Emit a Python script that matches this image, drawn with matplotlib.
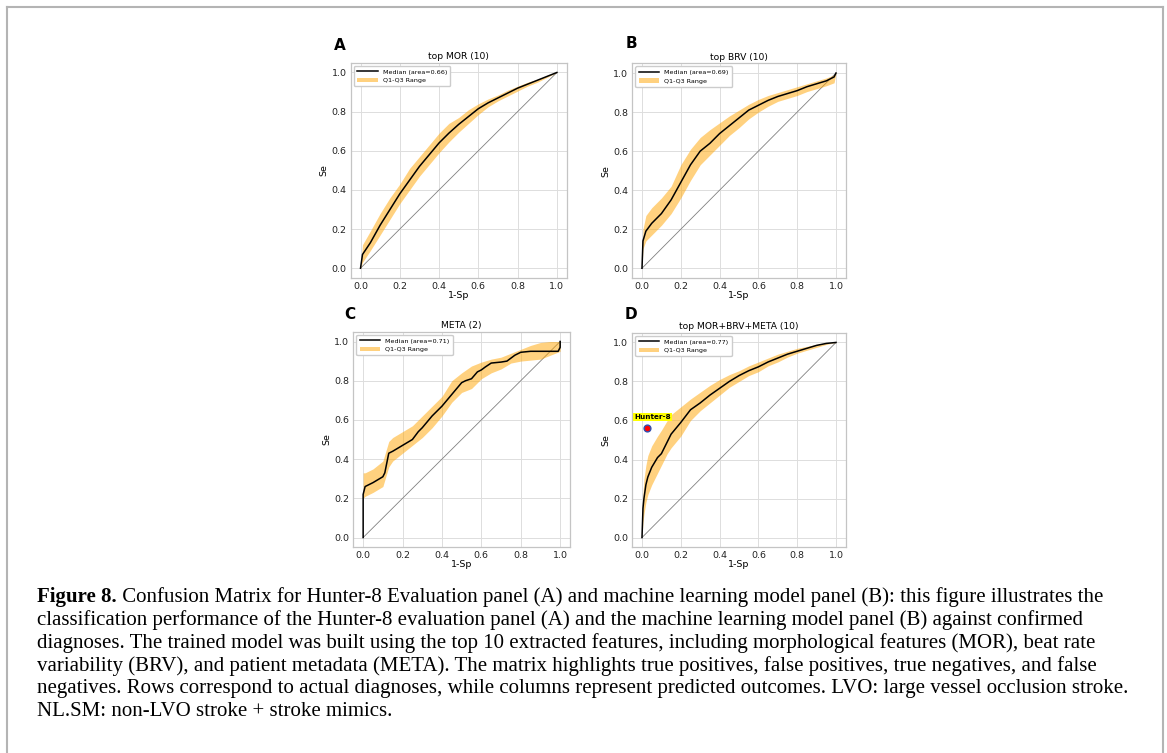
import matplotlib
matplotlib.use("Agg")
import matplotlib.pyplot as plt
from matplotlib.lines import Line2D
import numpy as np

W, H = 1167, 753

# ---------------- data ----------------
titles = ["top MOR (10)", "top BRV (10)", "META (2)", "top MOR+BRV+META (10)"]
panel_letters = ["A", "B", "C", "D"]
areas = [0.66, 0.69, 0.71, 0.77]

# Panel A (MOR)
a_x = [0, 0.01, 0.05, 0.1, 0.15, 0.2, 0.25, 0.3, 0.35, 0.4, 0.45, 0.5, 0.55, 0.6, 0.65, 0.7, 0.75, 0.8, 0.85, 0.9, 0.95, 1.0]
a_med = [0, 0.07, 0.13, 0.22, 0.30, 0.38, 0.45, 0.52, 0.58, 0.64, 0.69, 0.735, 0.775, 0.815, 0.845, 0.87, 0.895, 0.92, 0.94, 0.96, 0.98, 1.0]
a_up = [0, 0.12, 0.19, 0.28, 0.36, 0.43, 0.51, 0.57, 0.63, 0.69, 0.74, 0.77, 0.81, 0.84, 0.865, 0.885, 0.91, 0.93, 0.95, 0.965, 0.985, 1.0]
a_lo = [0, 0.03, 0.09, 0.17, 0.25, 0.33, 0.40, 0.47, 0.53, 0.59, 0.645, 0.695, 0.74, 0.785, 0.825, 0.855, 0.88, 0.905, 0.93, 0.95, 0.975, 1.0]

# Panel B (BRV)
b_x = [0, 0.005, 0.02, 0.05, 0.1, 0.15, 0.2, 0.25, 0.3, 0.35, 0.4, 0.45, 0.5, 0.55, 0.6, 0.65, 0.7, 0.75, 0.8, 0.85, 0.9, 0.95, 0.99, 1.0]
b_med = [0, 0.14, 0.19, 0.23, 0.28, 0.35, 0.44, 0.53, 0.60, 0.64, 0.69, 0.73, 0.77, 0.81, 0.835, 0.86, 0.88, 0.895, 0.91, 0.93, 0.945, 0.96, 0.98, 1.0]
b_up = [0, 0.20, 0.27, 0.31, 0.36, 0.42, 0.53, 0.61, 0.67, 0.71, 0.745, 0.78, 0.81, 0.84, 0.865, 0.885, 0.90, 0.915, 0.93, 0.945, 0.96, 0.975, 0.99, 1.0]
b_lo = [0, 0.10, 0.14, 0.17, 0.22, 0.28, 0.36, 0.45, 0.53, 0.58, 0.63, 0.68, 0.72, 0.765, 0.80, 0.83, 0.855, 0.87, 0.885, 0.905, 0.92, 0.935, 0.95, 1.0]

# Panel C (META)
c_x = [0, 0, 0.01, 0.05, 0.1, 0.11, 0.13, 0.15, 0.2, 0.25, 0.28, 0.3, 0.35, 0.4, 0.45, 0.5, 0.52, 0.55, 0.58, 0.6, 0.62, 0.65, 0.7, 0.73, 0.77, 0.8, 0.85, 0.9, 0.95, 0.99, 1.0, 1.0]
c_med = [0, 0.22, 0.26, 0.28, 0.31, 0.33, 0.43, 0.44, 0.47, 0.50, 0.54, 0.56, 0.62, 0.67, 0.73, 0.79, 0.80, 0.81, 0.845, 0.855, 0.87, 0.89, 0.895, 0.90, 0.93, 0.945, 0.95, 0.95, 0.95, 0.95, 0.97, 1.0]
c_bx = [0, 0.01, 0.05, 0.1, 0.13, 0.15, 0.2, 0.25, 0.3, 0.35, 0.4, 0.45, 0.5, 0.55, 0.6, 0.65, 0.7, 0.75, 0.8, 0.85, 0.9, 0.95, 1.0]
c_up = [0.33, 0.33, 0.35, 0.39, 0.49, 0.51, 0.54, 0.57, 0.62, 0.67, 0.72, 0.80, 0.84, 0.875, 0.895, 0.91, 0.92, 0.94, 0.96, 0.98, 0.995, 1.0, 1.0]
c_lo = [0.20, 0.21, 0.23, 0.26, 0.36, 0.39, 0.43, 0.47, 0.51, 0.56, 0.62, 0.69, 0.74, 0.76, 0.81, 0.84, 0.86, 0.89, 0.90, 0.905, 0.91, 0.93, 0.95]

# Panel D (MOR+BRV+META)
d_x = [0, 0.005, 0.01, 0.02, 0.03, 0.05, 0.08, 0.1, 0.13, 0.15, 0.2, 0.25, 0.3, 0.35, 0.4, 0.45, 0.5, 0.55, 0.6, 0.65, 0.7, 0.75, 0.8, 0.85, 0.9, 0.95, 1.0]
d_med = [0, 0.15, 0.20, 0.27, 0.31, 0.36, 0.41, 0.43, 0.49, 0.53, 0.59, 0.655, 0.69, 0.73, 0.765, 0.80, 0.83, 0.855, 0.875, 0.90, 0.92, 0.94, 0.955, 0.97, 0.985, 0.995, 1.0]
d_up = [0, 0.22, 0.30, 0.37, 0.42, 0.47, 0.52, 0.55, 0.60, 0.63, 0.67, 0.71, 0.745, 0.78, 0.81, 0.835, 0.855, 0.88, 0.90, 0.92, 0.94, 0.955, 0.97, 0.98, 0.99, 0.997, 1.0]
d_lo = [0, 0.08, 0.12, 0.18, 0.22, 0.27, 0.33, 0.37, 0.43, 0.46, 0.52, 0.60, 0.65, 0.69, 0.73, 0.77, 0.80, 0.83, 0.85, 0.88, 0.90, 0.925, 0.945, 0.96, 0.975, 0.99, 1.0]

hunter_x = [0.028]
hunter_y = [0.56]
hunter_label = "Hunter-8"

ticks = [0.0, 0.2, 0.4, 0.6, 0.8, 1.0]

caption_bold = "Figure 8."
caption_lines = [
    " Confusion Matrix for Hunter-8 Evaluation panel (A) and machine learning model panel (B): this figure illustrates the",
    "classification performance of the Hunter-8 evaluation panel (A) and the machine learning model panel (B) against confirmed",
    "diagnoses. The trained model was built using the top 10 extracted features, including morphological features (MOR), beat rate",
    "variability (BRV), and patient metadata (META). The matrix highlights true positives, false positives, true negatives, and false",
    "negatives. Rows correspond to actual diagnoses, while columns represent predicted outcomes. LVO: large vessel occlusion stroke.",
    "NL.SM: non-LVO stroke + stroke mimics.",
]

# ---------------- layout ----------------
fig = plt.figure(figsize=(W / 100, H / 100), dpi=100)

def px_axes(l, t, r, b):
    return fig.add_axes([l / W, 1 - b / H, (r - l) / W, (b - t) / H])

boxes = [(350.7, 62.7, 566.7, 278), (632.3, 63.3, 845.7, 278),
         (353.3, 331.7, 570, 547.3), (632.3, 332.7, 845.7, 547.3)]
letter_pos = [(340, 45), (631, 43), (350, 314), (631, 314)]

curves = [(a_x, a_med, a_x, a_lo, a_up), (b_x, b_med, b_x, b_lo, b_up),
          (c_x, c_med, c_bx, c_lo, c_up), (d_x, d_med, d_x, d_lo, d_up)]

for i, box in enumerate(boxes):
    ax = px_axes(*box)
    x, med, bx, lo, up = curves[i]
    ax.plot([0, 1], [0, 1], color="gray", lw=0.6, zorder=1)
    ax.fill_between(bx, lo, up, color="orange", alpha=0.5, lw=0,
                    label="Q1-Q3 Range", zorder=2)
    ax.plot(x, med, color="black", lw=1.1, label=f"Median (area={areas[i]:.2f})", zorder=3)
    ax.set_xlim(-0.05, 1.05)
    ax.set_ylim(-0.05, 1.05)
    ax.set_xticks(ticks)
    ax.set_yticks(ticks)
    ax.set_xticklabels([f"{t:.1f}" for t in ticks])
    ax.set_yticklabels([f"{t:.1f}" for t in ticks])
    ax.tick_params(labelsize=6.8, length=0, pad=3, colors="#222222")
    ax.grid(True, color="#dddddd", lw=0.7)
    ax.set_axisbelow(True)
    for s in ax.spines.values():
        s.set_color("#c4c4c4")
        s.set_linewidth(0.9)
    ax.set_xlabel("1-Sp", fontsize=6.8, labelpad=0)
    ax.set_ylabel("Se", fontsize=6.8, labelpad=2)
    ax.set_title(titles[i], fontsize=6.6, pad=2.5)
    handles, labels = ax.get_legend_handles_labels()
    order = [1, 0]
    ax.legend([handles[j] for j in order], [labels[j] for j in order],
              loc="upper left", fontsize=4.6, frameon=True, framealpha=1,
              edgecolor="#cccccc", handlelength=3.2, borderpad=0.5,
              labelspacing=0.5, fancybox=True)
    if i == 3:
        ax.scatter(hunter_x, hunter_y, s=24, color="red", edgecolor="#3050b0",
                   linewidth=1.0, zorder=5)
        ax.text(0.053, 0.618, hunter_label, fontsize=5.2, fontweight="bold",
                ha="center", va="center", zorder=6,
                bbox=dict(boxstyle="square,pad=0.15", facecolor="yellow", edgecolor="none"))
    lx, ly = letter_pos[i]
    fig.text(lx / W, 1 - ly / H, panel_letters[i], fontsize=11, fontweight="bold",
             ha="center", va="center")

# ---------------- caption ----------------
cap_font = "Liberation Serif"
cap_size = 15.0
cap_x = 37
cap_y = [597, 620, 643, 666, 689, 712]
bold_t = fig.text(cap_x / W, 1 - cap_y[0] / H, caption_bold, fontsize=cap_size,
                  fontweight="bold", family=cap_font, ha="left", va="center")
fig.canvas.draw()
r = fig.canvas.get_renderer()
bb = bold_t.get_window_extent(renderer=r)
fig.text(bb.x1 / W, 1 - cap_y[0] / H, caption_lines[0], fontsize=cap_size,
         family=cap_font, ha="left", va="center")
for k in range(1, len(caption_lines)):
    fig.text(cap_x / W, 1 - cap_y[k] / H, caption_lines[k], fontsize=cap_size,
             family=cap_font, ha="left", va="center")

# ---------------- frame ----------------
fc = "#b4b4b4"
fig.add_artist(Line2D([7 / W, 1163 / W], [1 - 7 / H, 1 - 7 / H], color=fc, lw=1.5))
fig.add_artist(Line2D([7 / W, 7 / W], [1 - 7 / H, 0], color=fc, lw=1.5))
fig.add_artist(Line2D([1163 / W, 1163 / W], [1 - 7 / H, 0], color=fc, lw=1.5))

fig.savefig("out.png", dpi=100)
